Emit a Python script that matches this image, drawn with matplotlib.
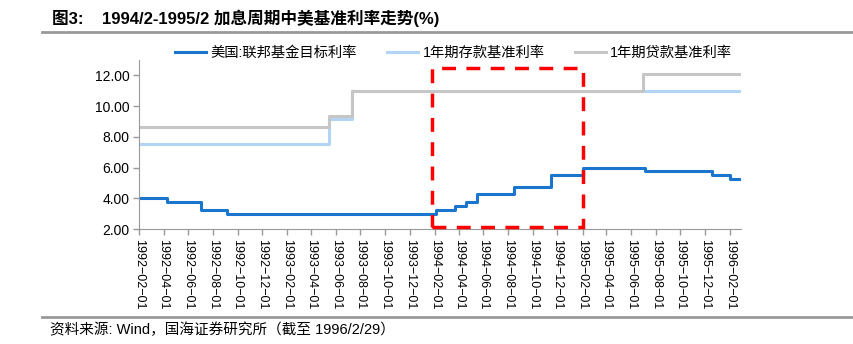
import matplotlib
matplotlib.use("Agg")
import matplotlib.pyplot as plt
import matplotlib.dates as mdates
from matplotlib.patches import Rectangle
from matplotlib.lines import Line2D
import numpy as np

plt.rcParams['font.family'] = ['Liberation Sans', 'Noto Sans CJK SC', 'DejaVu Sans']
plt.rcParams['axes.unicode_minus'] = False

end_date = "1996-02-29"

# 美国联邦基金目标利率
fed_dates = ["1992-02-01", "1992-04-09", "1992-07-02", "1992-09-04", "1994-02-04",
             "1994-03-22", "1994-04-18", "1994-05-17", "1994-08-16", "1994-11-15",
             "1995-02-01", "1995-07-06", "1995-12-19", "1996-01-31"]
fed_rate = [4.00, 3.75, 3.25, 3.00, 3.25, 3.50, 3.75, 4.25, 4.75, 5.50, 6.00, 5.75, 5.50, 5.25]

# 1年期存款基准利率
dep_dates = ["1992-02-01", "1993-05-15", "1993-07-11"]
dep_rate = [7.56, 9.18, 10.98]

# 1年期贷款基准利率
loan_dates = ["1992-02-01", "1993-05-15", "1993-07-11", "1995-07-01"]
loan_rate = [8.64, 9.36, 10.98, 12.06]

box_start, box_end = "1994-01-25", "1995-02-03"
box_low, box_high = 2.1, 12.5

tick_dates = ["1992-02-01", "1992-04-01", "1992-06-01", "1992-08-01", "1992-10-01",
              "1992-12-01", "1993-02-01", "1993-04-01", "1993-06-01", "1993-08-01",
              "1993-10-01", "1993-12-01", "1994-02-01", "1994-04-01", "1994-06-01",
              "1994-08-01", "1994-10-01", "1994-12-01", "1995-02-01", "1995-04-01",
              "1995-06-01", "1995-08-01", "1995-10-01", "1995-12-01", "1996-02-01"]


def steps(dates, vals):
    d = np.array(dates + [end_date], dtype="datetime64[D]")
    v = list(vals) + [vals[-1]]
    return d, v


fig = plt.figure(figsize=(8.54, 3.44), dpi=100)
ax = fig.add_axes([0.1631, 0.3343, 0.7051, 0.4913])

blue = "#1a75cf"
light = "#b3d5f5"
grey = "#c6c6c6"

d, v = steps(dep_dates, dep_rate)
ax.step(d, v, where="post", color=light, lw=2.2)
# loan line on top where they overlap
d, v = steps(loan_dates, loan_rate)
ax.step(d, v, where="post", color=grey, lw=2.2)
d, v = steps(fed_dates, fed_rate)
ax.step(d, v, where="post", color=blue, lw=2.2)

x0 = mdates.date2num(np.datetime64(box_start))
x1 = mdates.date2num(np.datetime64(box_end))
ax.add_patch(Rectangle((x0, box_low), x1 - x0, box_high - box_low, fill=False,
                       edgecolor="#ff0000", lw=2.5, ls=(0, (4, 3)), zorder=5,
                       clip_on=False))

ax.set_xlim(np.datetime64("1992-02-01"), np.datetime64(end_date))
ax.set_ylim(2, 13)
ax.set_yticks([2, 4, 6, 8, 10, 12])
ax.set_yticklabels([f"{t:.2f}" for t in [2, 4, 6, 8, 10, 12]], fontsize=10)
ax.set_xticks(np.array(tick_dates, dtype="datetime64[D]"))
ax.set_xticklabels([t.replace("-", "\u2212") for t in tick_dates], rotation=270,
                   fontsize=9)

for s in ["top", "right"]:
    ax.spines[s].set_visible(False)
for s in ["left", "bottom"]:
    ax.spines[s].set_color("#999999")
ax.tick_params(axis="both", color="#999999", length=4, width=1, pad=3)

handles = [Line2D([], [], color=blue, lw=2.2),
           Line2D([], [], color=light, lw=2.2),
           Line2D([], [], color=grey, lw=2.2)]
labels = ["美国:联邦基金目标利率", "1年期存款基准利率", "1年期贷款基准利率"]
fig.legend(handles, labels, ncol=3, loc="center", bbox_to_anchor=(0.531, 1 - 53 / 344),
           frameon=False, fontsize=10.3, handlelength=2.2, handletextpad=0.3,
           columnspacing=2.1)

fig.text(52 / 854, 1 - 18 / 344, "图3:    1994/2-1995/2 加息周期中美基准利率走势(%)",
         fontsize=12, fontweight="bold", va="center", ha="left")
fig.add_artist(Line2D([42 / 854, 1], [1 - 32 / 344] * 2, color="#999999", lw=2))
fig.add_artist(Line2D([42 / 854, 1], [1 - 316.5 / 344] * 2, color="#999999", lw=2))
fig.text(50 / 854, 1 - 330 / 344, "资料来源: Wind，国海证券研究所（截至 1996/2/29）",
         fontsize=10.5, va="center", ha="left")

fig.savefig("out.png", dpi=100)
